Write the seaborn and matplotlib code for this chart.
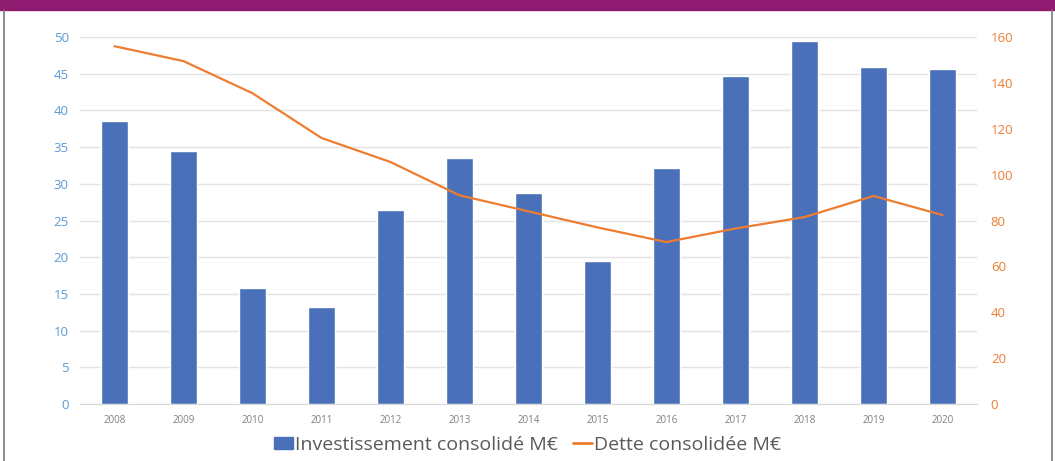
import matplotlib.pyplot as plt
import matplotlib.patches as mpatches
from matplotlib.lines import Line2D
import seaborn as sns
import numpy as np
import pandas as pd

# Données
annees = ['2008', '2009', '2010', '2011', '2012', '2013', '2014',
          '2015', '2016', '2017', '2018', '2019', '2020']
investissement = [38.6, 34.5, 15.8, 13.2, 26.5, 33.5, 28.7,
                  19.5, 32.2, 44.7, 49.4, 45.9, 45.6]
dette = [156, 149.5, 135.5, 116, 105.5, 91, 84,
         77, 70.6, 76.5, 81.5, 90.7, 82.4]

bleu = '#4A70B9'
orange = '#ED7D31'

sns.set_style("white")
plt.rcParams['font.family'] = ['Open Sans', 'DejaVu Sans']

df = pd.DataFrame({'annee': annees, 'invest': investissement, 'dette': dette})

fig = plt.figure(figsize=(10.55, 4.61), dpi=100)
ax = fig.add_axes([0.0758, 0.1236, 0.8502, 0.7961])

sns.barplot(data=df, x='annee', y='invest', color=bleu, width=0.4,
            saturation=1, ax=ax)
ax.set_ylim(0, 50)
ax.set_xlim(-0.5, len(annees) - 0.5)
ax.set_yticks(range(0, 51, 5))
ax.yaxis.grid(True, color='#E3E3E3', linewidth=1)
ax.set_axisbelow(True)
ax.set_xlabel('')
ax.set_ylabel('')
ax.tick_params(axis='y', colors='#5B9BD5', labelsize=9.5, length=0, pad=8)
ax.tick_params(axis='x', colors='#7F7F7F', labelsize=7, length=0, pad=8)
for s in ['top', 'right', 'left']:
    ax.spines[s].set_visible(False)
ax.spines['bottom'].set_color('#D9D9D9')

ax2 = ax.twinx()
sns.lineplot(x=np.arange(len(annees)), y=df['dette'], color=orange,
             linewidth=1.6, ax=ax2)
ax2.set_ylim(0, 160)
ax2.set_yticks(range(0, 161, 20))
ax2.set_ylabel('')
ax2.tick_params(axis='y', colors=orange, labelsize=9.5, length=0, pad=10)
for s in ax2.spines.values():
    s.set_visible(False)

# Bandeau violet et cadre
fig.patches.append(mpatches.Rectangle((0, 0.978), 1, 0.022, transform=fig.transFigure,
                                      color='#8E1B6F', zorder=0))
fig.add_artist(Line2D([0.004, 0.004], [0, 0.978], transform=fig.transFigure,
                      color='#777777', linewidth=1.2))
fig.add_artist(Line2D([0.997, 0.997], [0, 0.978], transform=fig.transFigure,
                      color='#777777', linewidth=1.2))

handles = [mpatches.Patch(color=bleu, label='Investissement consolidé M€'),
           Line2D([0], [0], color=orange, linewidth=2, label='Dette consolidée M€')]
fig.legend(handles=handles, loc='center', bbox_to_anchor=(0.5, 0.035), ncol=2,
           frameon=False, fontsize=14, handlelength=0.95, handleheight=0.6,
           handletextpad=0.1, columnspacing=0.8, labelcolor='#595959')

fig.savefig('out.png', dpi=100)
